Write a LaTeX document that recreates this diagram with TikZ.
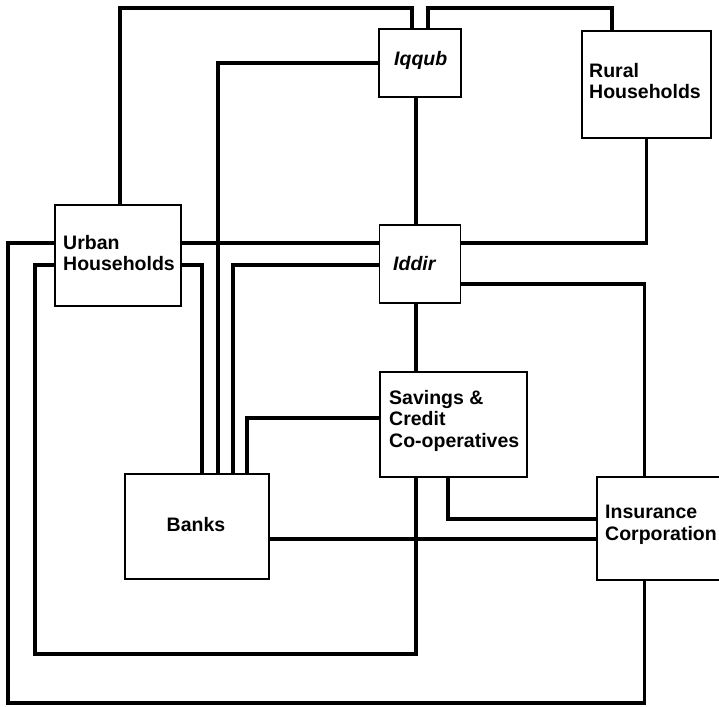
\documentclass[tikz,border=0pt]{standalone}
\usepackage{fontspec}
\setmainfont{Liberation Sans}
\begin{document}
\begin{tikzpicture}[x=1pt,y=1pt,
  box/.style={draw, line width=1.9pt, fill=white, inner sep=0pt, outer sep=0pt},
  conn/.style={line width=3.1pt},
  txt/.style={font=\bfseries\fontsize{19.5}{21.5}\selectfont, inner sep=0pt, align=left, anchor=north west},
  itxt/.style={txt, font=\bfseries\itshape\fontsize{19.5}{21.5}\selectfont}]
\useasboundingbox (0,0) rectangle (719,-706);
\clip (0,0) rectangle (719,-706);
% boxes
\node[box, minimum width=126, minimum height=101] (urban) at (118,-255.5) {};
\node[box, minimum width=82, minimum height=68] (iqqub) at (420,-63) {};
\node[box, minimum width=129, minimum height=107] (rural) at (646.5,-84.5) {};
\node[box, minimum width=81, minimum height=78] (iddir) at (420,-264) {};
\node[box, minimum width=147, minimum height=105] (savings) at (453.5,-424.5) {};
\node[box, minimum width=131, minimum height=103] (insurance) at (662.5,-528.5) {};
\node[box, minimum width=144, minimum height=105] (banks) at (197,-526.5) {};
% texts
\node[txt] (urbanT) at (63,-235) {Urban\\Households};
\node[itxt] (iqqubT) at (394,-51) {Iqqub};
\node[txt] (ruralT) at (589,-63) {Rural\\Households};
\node[itxt] (iddirT) at (393,-256) {Iddir};
\node[txt] (savingsT) at (389,-390) {Savings \&\\Credit\\Co-operatives};
\node[txt] (insuranceT) at (605,-505) {Insurance\\Corporation};
\node[txt, anchor=base] (banksT) at (196,-531) {Banks};
% connectors
\draw[conn] ([xshift=2]urban.north) -- ++(0,197) -| ([xshift=-8]iqqub.north);
\draw[conn] ([xshift=8]iqqub.north) -- ++(0,21) -| ([xshift=-34.5]rural.north);
\draw[conn] (iqqub.west) -| ([xshift=21]banks.north);
\draw[conn] ([yshift=-9.5]urban.east) -| ([xshift=5]banks.north);
\draw[conn] ([yshift=-1]iddir.west) -| ([xshift=36]banks.north);
\draw[conn] ([yshift=6.5]savings.west) -| ([xshift=50]banks.north);
\draw[conn] ([yshift=12.5]urban.east) -- ([yshift=21]iddir.west);
\draw[conn] ([yshift=12.5]urban.west) -- ++(-47,0) -- ++(0,-460) -| ([xshift=-18]insurance.south);
\draw[conn] ([yshift=-9.5]urban.west) -- ++(-20,0) -- ++(0,-389) -| ([xshift=-37.5]savings.south);
\draw[conn] ([xshift=-4]iqqub.south) -- ([xshift=-4]iddir.north);
\draw[conn] ([xshift=-4]iddir.south) -- ([xshift=-37.5]savings.north);
\draw[conn] ([yshift=21]iddir.east) -| (rural.south);
\draw[conn] ([yshift=-20]iddir.east) -| ([xshift=-18]insurance.north);
\draw[conn] ([xshift=-5.5]savings.south) |- ([yshift=9.5]insurance.west);
\draw[conn] ([yshift=-12.5]banks.east) -- ([yshift=-10.5]insurance.west);
\end{tikzpicture}
\end{document}
